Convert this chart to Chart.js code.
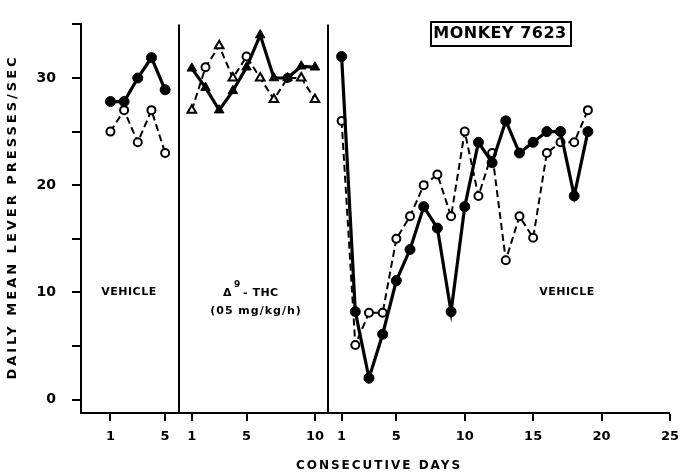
<!DOCTYPE html>
<html>
<head>
<meta charset="utf-8">
<script src="https://cdn.jsdelivr.net/npm/chart.js@4"></script>
<style>
  html, body { margin: 0; padding: 0; background: #fff; }
  canvas { display: block; }
</style>
</head>
<body>
<canvas id="grafico" width="687" height="476"></canvas>
<script>
// Dados (Monkey 7623)
const diasVeiculo1 = [1, 2, 3, 4, 5];
const veiculo1Cheio = [27.8, 27.8, 30, 31.9, 28.9];
const veiculo1Aberto = [25, 27, 24, 27, 23];

const diasThc = [1, 2, 3, 4, 5, 6, 7, 8, 9, 10];
const thcCheio = [30.9, 29.1, 27, 28.8, 31, 34, 30, 30, 31.1, 31];
const thcAberto = [27, 31, 33, 30, 32, 30, 28, 30, 30, 28];
const thcAbertoForma = ['triangle', 'circle', 'triangle', 'triangle', 'circle', 'triangle', 'triangle', 'circle', 'triangle', 'triangle'];

const diasVeiculo2 = [1, 2, 3, 4, 5, 6, 7, 8, 9, 10, 11, 12, 13, 14, 15, 16, 17, 18, 19];
const veiculo2Cheio = [32, 8.2, 2, 6.1, 11.1, 14, 18, 16, 8.2, 18, 24, 22.1, 26, 23, 24, 25, 25, 19, 25];
const veiculo2Aberto = [26, 5.1, 8.1, 8.1, 15, 17.1, 20, 21, 17.1, 25, 19, 23, 13, 17.1, 15.1, 23, 24, 24, 27];

// rótulos do eixo x de cada painel
const ticksPainel1 = [1, 5];
const ticksPainel2 = [1, 5, 10];
const ticksPainel3 = [1, 5, 10, 15, 20, 25];
const ticksY = [0, 5, 10, 15, 20, 25, 30, 35];
const rotulosY = [0, 10, 20, 30];

// deslocamento de cada painel no eixo x contínuo
const desloc1 = 1.15;
const desloc2 = 7.1;
const desloc3 = 18.05;
const divisorias = [7.14, 18.04];

function pontos(dias, valores, desloc) {
  return dias.map((d, i) => ({ x: d + desloc, y: valores[i] }));
}

// mapa posição -> rótulo
const rotulosX = {};
ticksPainel1.forEach(d => rotulosX[(d + desloc1).toFixed(2)] = String(d));
ticksPainel2.forEach(d => rotulosX[(d + desloc2).toFixed(2)] = String(d));
ticksPainel3.forEach(d => rotulosX[(d + desloc3).toFixed(2)] = String(d));

const fonte = 'DejaVu Sans';

const cheio = (dados, forma) => ({
  data: dados,
  borderColor: '#000',
  backgroundColor: '#000',
  borderWidth: 3.2,
  pointStyle: forma,
  pointRadius: forma === 'triangle' ? 5.5 : 5,
  pointBorderWidth: 1,
  tension: 0
});

const aberto = (dados, forma) => ({
  data: dados,
  borderColor: '#000',
  backgroundColor: '#fff',
  borderWidth: 2,
  borderDash: [7, 4],
  pointStyle: forma,
  pointRadius: Array.isArray(forma) ? forma.map(f => f === 'triangle' ? 5 : 4) : 4,
  pointBorderWidth: 2,
  tension: 0
});

const pluginAnotacoes = {
  id: 'anotacoes',
  beforeDatasetsDraw(chart) {
    const { ctx, chartArea, scales } = chart;
    ctx.save();
    ctx.strokeStyle = '#000';
    ctx.lineWidth = 2;
    divisorias.forEach(v => {
      const x = Math.round(scales.x.getPixelForValue(v));
      ctx.beginPath();
      ctx.moveTo(x, chartArea.top);
      ctx.lineTo(x, chartArea.bottom);
      ctx.stroke();
    });
    ctx.restore();
  },
  afterDraw(chart) {
    const { ctx } = chart;
    ctx.save();
    ctx.fillStyle = '#000';
    ctx.textAlign = 'center';
    ctx.textBaseline = 'middle';

    // títulos dos eixos
    ctx.font = 'bold 12px "' + fonte + '"';
    ctx.letterSpacing = '2px';
    ctx.fillText('CONSECUTIVE DAYS', 379, 466);
    ctx.save();
    ctx.translate(13, 217);
    ctx.rotate(-Math.PI / 2);
    ctx.font = 'bold 13px "' + fonte + '"';
    ctx.letterSpacing = '3px';
    ctx.fillText('DAILY MEAN LEVER PRESSES/SEC', 0, 0);
    ctx.restore();

    // textos dos painéis
    ctx.letterSpacing = '0.5px';
    ctx.font = 'bold 11px "' + fonte + '"';
    ctx.fillText('VEHICLE', 129, 292);
    ctx.fillText('VEHICLE', 567, 292);
    ctx.textAlign = 'left';
    ctx.fillText('\u0394', 223, 293);
    ctx.fillText('- THC', 243, 293);
    ctx.font = 'bold 9px "' + fonte + '"';
    ctx.fillText('9', 234, 285);
    ctx.textAlign = 'center';
    ctx.font = 'bold 11px "' + fonte + '"';
    ctx.letterSpacing = '1px';
    ctx.fillText('(05 mg/kg/h)', 256, 311);

    // caixa do título
    ctx.letterSpacing = '0.5px';
    ctx.font = 'bold 16px "' + fonte + '"';
    ctx.fillText('MONKEY 7623', 500, 34);
    ctx.lineWidth = 2;
    ctx.strokeRect(431, 22, 140, 24);
    ctx.restore();
  }
};

new Chart(document.getElementById('grafico'), {
  type: 'line',
  data: {
    datasets: [
      cheio(pontos(diasVeiculo1, veiculo1Cheio, desloc1), 'circle'),
      cheio(pontos(diasThc, thcCheio, desloc2), 'triangle'),
      cheio(pontos(diasVeiculo2, veiculo2Cheio, desloc3), 'circle'),
      aberto(pontos(diasVeiculo1, veiculo1Aberto, desloc1), 'circle'),
      aberto(pontos(diasThc, thcAberto, desloc2), thcAbertoForma),
      aberto(pontos(diasVeiculo2, veiculo2Aberto, desloc3), 'circle')
    ]
  },
  options: {
    responsive: false,
    animation: false,
    layout: {
      padding: { top: 8, right: 10, left: 0, bottom: 0 }
    },
    scales: {
      x: {
        type: 'linear',
        min: 0,
        max: 43,
        afterFit(scale) { scale.height = 63; }, // base do gráfico em y=413
        afterBuildTicks(scale) {
          scale.ticks = Object.keys(rotulosX).map(k => ({ value: parseFloat(k) }));
        },
        grid: {
          drawOnChartArea: false,
          drawTicks: true,
          tickLength: 8,
          color: '#000',
          lineWidth: 2
        },
        border: { display: true, color: '#000', width: 2 },
        ticks: {
          color: '#000',
          padding: 8,
          maxRotation: 0,
          autoSkip: false,
          font: { family: fonte, size: 13, weight: 'bold' },
          callback: v => rotulosX[Number(v).toFixed(2)] || ''
        }
      },
      y: {
        min: -1.25,
        max: 35,
        afterFit(scale) { scale.width = 81; },
        afterBuildTicks(scale) {
          scale.ticks = ticksY.map(v => ({ value: v }));
        },
        grid: {
          drawOnChartArea: false,
          drawTicks: true,
          tickLength: 9,
          color: '#000',
          lineWidth: 2
        },
        border: { display: true, color: '#000', width: 2 },
        ticks: {
          color: '#000',
          padding: 16,
          font: { family: fonte, size: 14, weight: 'bold' },
          callback: v => rotulosY.includes(v) ? String(v) : ''
        }
      }
    },
    plugins: {
      legend: { display: false },
      title: { display: false },
      tooltip: { enabled: false }
    }
  },
  plugins: [pluginAnotacoes]
});
</script>
</body>
</html>
